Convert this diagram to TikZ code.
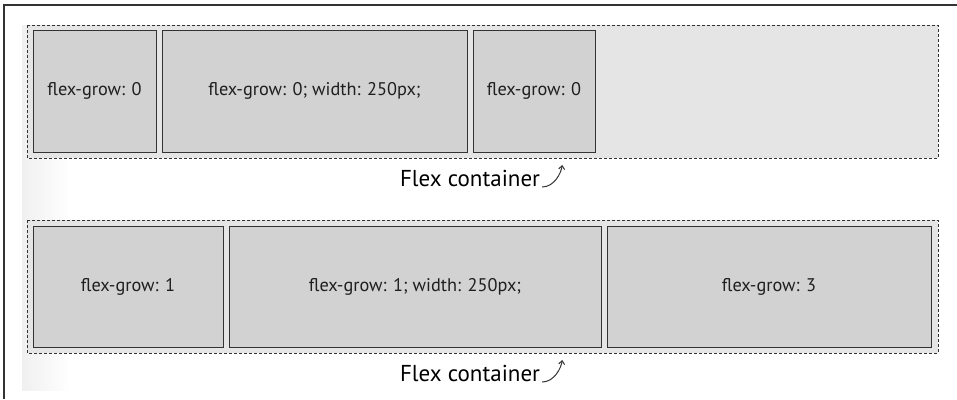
\documentclass[tikz,border=0pt]{standalone}
\usepackage{fontspec}
\setmainfont{PT Sans}
\usetikzlibrary{arrows.meta}
\definecolor{itemfill}{HTML}{D2D2D2}
\definecolor{contfill}{HTML}{E5E5E5}
\definecolor{edge}{HTML}{333333}
\begin{document}
\begin{tikzpicture}[x=1pt,y=-1pt,
  item/.style={draw=edge,line width=1pt,fill=itemfill},
  label/.style={font=\fontsize{18.3}{20}\selectfont,text=black!88},
  cont/.style={draw=edge,dash pattern=on 3pt off 2pt,line width=1pt},
  caption/.style={font=\fontsize{23}{26}\selectfont,text=black,inner sep=0pt,anchor=base},
  curl/.style={edge,line width=1pt,-{Straight Barb[length=3.5pt,width=6pt]}}]
\useasboundingbox (0,0) rectangle (957,399);
\fill[white] (0,0) rectangle (957,399);
% faint left shading
\shade[left color=black!6,right color=white] (22,19) rectangle (70,390);
\fill[white] (22,19) rectangle (938,25);
% frame
\draw[edge,line width=1.5pt] (4,399) -- (4,5) -- (957,5);
% top container
\draw[cont,fill=contfill] (27,25) rectangle (938,158);
\path[item] (33,30) rectangle (156,152);
\path[item] (162,30) rectangle (467,152);
\path[item] (473,30) rectangle (595,152);
\node[label] (t1) at (94.5,91) {flex-grow: 0};
\node[label] (t2) at (314.5,91) {flex-grow: 0; width: 250px;};
\node[label] (t3) at (534,91) {flex-grow: 0};
\node[caption] (c1) at (470,186) {Flex container};
\coordinate (e1) at ([xshift=22pt,yshift=21pt]c1.base east);
\draw[curl] ([xshift=2pt,yshift=-1pt]c1.base east) .. controls +(12,0) and +(-1,8) .. (e1);
% bottom container
\draw[cont,fill=contfill] (27,220) rectangle (938,353);
\path[item] (33,226) rectangle (223,347);
\path[item] (229,226) rectangle (601,347);
\path[item] (607,226) rectangle (931,347);
\node[label] (b1) at (128,286.5) {flex-grow: 1};
\node[label] (b2) at (415,286.5) {flex-grow: 1; width: 250px;};
\node[label] (b3) at (769,286.5) {flex-grow: 3};
\node[caption] (c2) at (470,381) {Flex container};
\coordinate (e2) at ([xshift=22pt,yshift=21pt]c2.base east);
\draw[curl] ([xshift=2pt,yshift=-1pt]c2.base east) .. controls +(12,0) and +(-1,8) .. (e2);
\end{tikzpicture}
\end{document}
